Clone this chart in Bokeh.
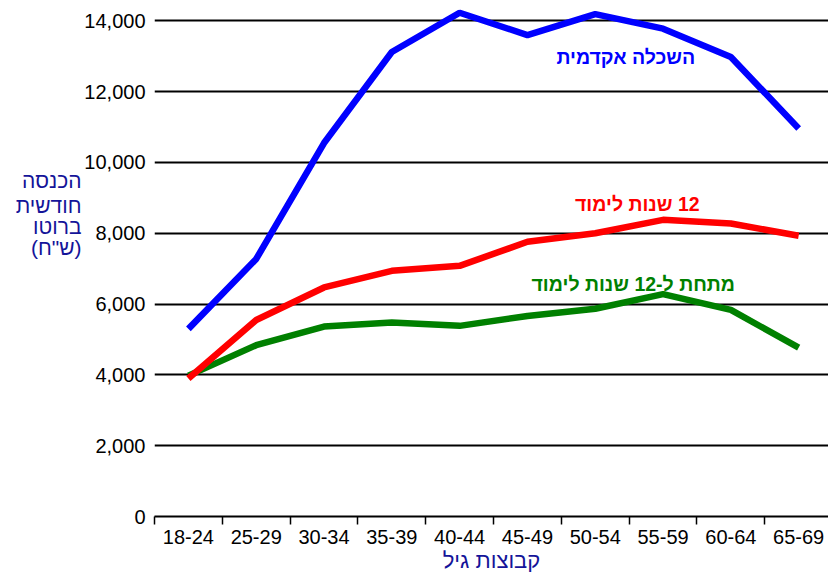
from bokeh.plotting import figure
from bokeh.models import Range1d, FixedTicker, NumeralTickFormatter, Label, LinearAxis
from bokeh.embed import file_html
from bokeh.resources import INLINE

age_groups = ["18-24", "25-29", "30-34", "35-39", "40-44",
              "45-49", "50-54", "55-59", "60-64", "65-69"]
academic = [5300, 7275, 10550, 13120, 14230, 13600, 14190, 13780, 12980, 10960]
twelve_years = [3900, 5550, 6470, 6940, 7080, 7760, 8000, 8380, 8275, 7930]
below_twelve = [3980, 4840, 5365, 5480, 5385, 5665, 5870, 6280, 5835, 4770]
y_ticks = [0, 2000, 4000, 6000, 8000, 10000, 12000, 14000]

series_names = ["השכלה אקדמית", "12 שנות לימוד", "מתחת ל-12 שנות לימוד"]
y_title_lines = ["הכנסה", "חודשית", "ברוטו", "(ש\"ח)"]
x_title = "קבוצות גיל"

FONT = "Liberation Sans"
NAVY = "#141499"


def rtl(s):
    # right-to-left embedding so numbers / brackets sit as in Hebrew text
    return "\u202b" + s + "\u202c"


x = [i + 0.5 for i in range(len(age_groups))]
boundaries = list(range(len(age_groups) + 1))

p = figure(width=828, height=575, output_backend="svg", toolbar_location=None,
           x_range=Range1d(0, 9.94), y_range=Range1d(0, 14576),
           min_border_left=154, min_border_right=0, min_border_top=0,
           min_border_bottom=59)
p.outline_line_color = None
p.background_fill_color = "white"
p.border_fill_color = "white"

# x axis: labels centred in each band, ticks on the band edges
xa = p.xaxis[0]
xa.ticker = FixedTicker(ticks=x, minor_ticks=boundaries)
xa.major_label_overrides = {xi: lab for xi, lab in zip(x, age_groups)}
xa.major_tick_line_color = None
xa.major_tick_out = 0
xa.major_tick_in = 0
xa.minor_tick_line_color = "black"
xa.minor_tick_line_width = 1.5
xa.minor_tick_out = 8
xa.minor_tick_in = 0
xa.axis_line_color = "black"
xa.axis_line_width = 2
xa.major_label_text_font = FONT
xa.major_label_text_font_size = "20px"
xa.major_label_text_color = "black"
xa.major_label_standoff = 5
xa.axis_label = rtl(x_title)
xa.axis_label_text_font = FONT
xa.axis_label_text_font_size = "22px"
xa.axis_label_text_font_style = "normal"
xa.axis_label_text_color = NAVY
xa.axis_label_standoff = 1

# y axis
ya = p.yaxis[0]
ya.ticker = FixedTicker(ticks=y_ticks)
ya.formatter = NumeralTickFormatter(format="0,0")
ya.axis_line_color = None
ya.major_tick_line_color = None
ya.major_tick_out = 0
ya.major_tick_in = 0
ya.minor_tick_line_color = None
ya.major_label_text_font = FONT
ya.major_label_text_font_size = "20px"
ya.major_label_text_color = "black"
ya.major_label_standoff = 9

p.xgrid.visible = False
p.ygrid.ticker = ya.ticker
p.ygrid.grid_line_color = "black"
p.ygrid.grid_line_width = 2

# horizontal multi-line y title, drawn as labels of an outer axis
title_pos = [9480, 8774, 8181, 7588]
ta = LinearAxis(ticker=FixedTicker(ticks=title_pos),
                major_label_overrides={v: rtl(t) for v, t in zip(title_pos, y_title_lines)})
ta.axis_line_color = None
ta.major_tick_line_color = None
ta.major_tick_out = 0
ta.major_tick_in = 0
ta.minor_tick_line_color = None
ta.major_label_text_font = FONT
ta.major_label_text_font_size = "21px"
ta.major_label_text_color = NAVY
ta.major_label_standoff = 0
p.add_layout(ta, "left")

# lines
p.line(x, below_twelve, line_color="#008000", line_width=6.5)
p.line(x, twelve_years, line_color="#ff0000", line_width=6.5)
p.line(x, academic, line_color="#0000ff", line_width=6.5)

# series labels
for txt, lx, ly, col in [(series_names[0], 6.95, 12983, "#0000ff"),
                         (series_names[1], 7.12, 8828, "#ff0000"),
                         (series_names[2], 7.06, 6568, "#008000")]:
    p.add_layout(Label(x=lx, y=ly, text=rtl(txt), text_align="center",
                       text_baseline="middle", text_font=FONT,
                       text_font_style="bold", text_font_size="19.5px",
                       text_color=col))

open("out.html", "w").write(file_html(p, INLINE))
